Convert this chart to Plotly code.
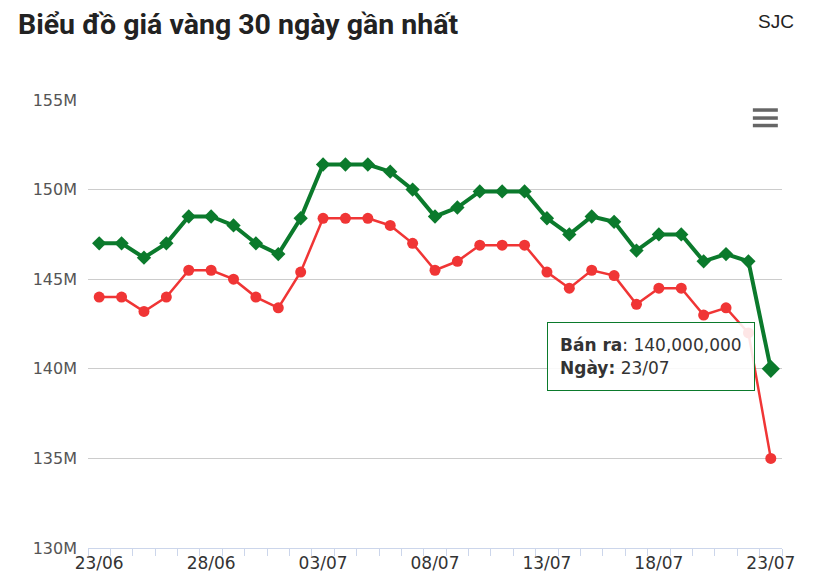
import plotly.graph_objects as go

# dữ liệu 30 ngày (triệu đồng / lượng)
dates = ["23/06", "24/06", "25/06", "26/06", "27/06", "28/06", "29/06", "30/06",
         "01/07", "02/07", "03/07", "04/07", "05/07", "06/07", "07/07", "08/07",
         "09/07", "10/07", "11/07", "12/07", "13/07", "14/07", "15/07", "16/07",
         "17/07", "18/07", "19/07", "20/07", "21/07", "22/07", "23/07"]
ban_ra = [147.0, 147.0, 146.2, 147.0, 148.5, 148.5, 148.0, 147.0, 146.4, 148.4,
          151.4, 151.4, 151.4, 151.0, 150.0, 148.5, 149.0, 149.9, 149.9, 149.9,
          148.4, 147.5, 148.5, 148.2, 146.6, 147.5, 147.5, 146.0, 146.4, 146.0, 140.0]
mua_vao = [144.0, 144.0, 143.2, 144.0, 145.5, 145.5, 145.0, 144.0, 143.4, 145.4,
           148.4, 148.4, 148.4, 148.0, 147.0, 145.5, 146.0, 146.9, 146.9, 146.9,
           145.4, 144.5, 145.5, 145.2, 143.6, 144.5, 144.5, 143.0, 143.4, 142.0, 135.0]
y_ticks = [130, 135, 140, 145, 150, 155]

idx = list(range(len(dates)))
green = "#0b7a2c"
red = "#f03535"

fig = go.Figure()
fig.add_trace(go.Scatter(x=idx, y=mua_vao, name="Mua vào", mode="lines+markers",
                         line=dict(color=red, width=2.5),
                         marker=dict(symbol="circle", size=11, color=red, opacity=1,
                                     line=dict(width=0))))
fig.add_trace(go.Scatter(x=idx, y=ban_ra, name="Bán ra", mode="lines+markers",
                         line=dict(color=green, width=4),
                         marker=dict(symbol="diamond", color=green, opacity=1,
                                     line=dict(width=0),
                                     size=[11] * (len(idx) - 1) + [14])))

# tooltip điểm cuối
fig.add_annotation(xref="paper", yref="paper", x=0.811, y=0.427,
                   xanchor="center", yanchor="middle", showarrow=False,
                   text=f"<b>Bán ra</b>: {ban_ra[-1] * 1e6:,.0f}<br><b>Ngày:</b> {dates[-1]}",
                   align="left", width=182, height=43, borderpad=12,
                   bgcolor="rgba(255,255,255,0.88)", bordercolor=green, borderwidth=1,
                   font=dict(family="DejaVu Sans", size=17, color="#333333"))

fig.add_annotation(xref="paper", yref="paper", x=1.0202, y=1.1745,
                   xanchor="right", yanchor="middle", showarrow=False, text="SJC",
                   font=dict(family="Liberation Sans", size=19, color="#222222"))

# nút menu
for yy in [0.9776, 0.9597, 0.943]:
    fig.add_shape(type="line", xref="paper", yref="paper", x0=0.958, x1=0.994,
                  y0=yy, y1=yy, line=dict(color="#666666", width=3.5))

# trang có lề 8px ở trên và trái
fig.update_layout(
    width=807, height=577,
    margin=dict(l=80, r=33, t=92, b=32),
    paper_bgcolor="white", plot_bgcolor="white",
    showlegend=False,
    title=dict(text="<b>Biểu đồ giá vàng 30 ngày gần nhất</b>", x=10 / 807, xanchor="left",
               y=1 - 16 / 577, yanchor="middle",
               font=dict(family="Roboto", size=28.5, color="#222222")),
    xaxis=dict(range=[-0.5, len(idx) - 0.5], tickmode="array",
               tickvals=idx[::5], ticktext=dates[::5], ticks="", showgrid=False,
               zeroline=False, showline=True, linecolor="#ccd6eb", linewidth=1,
               minor=dict(tick0=0.5, dtick=1, ticks="outside", ticklen=7,
                          tickcolor="#ccd6eb", showgrid=False),
               tickfont=dict(family="DejaVu Sans", size=17, color="#333333")),
    yaxis=dict(range=[y_ticks[0], y_ticks[-1]], tickmode="array", tickvals=y_ticks,
               ticktext=[f"{v}M" for v in y_ticks], showgrid=True,
               gridcolor="#cccccc", gridwidth=1, zeroline=False, ticklabelstandoff=10,
               tickfont=dict(family="DejaVu Sans", size=16, color="#555555")),
)

fig.write_html("out.html")
